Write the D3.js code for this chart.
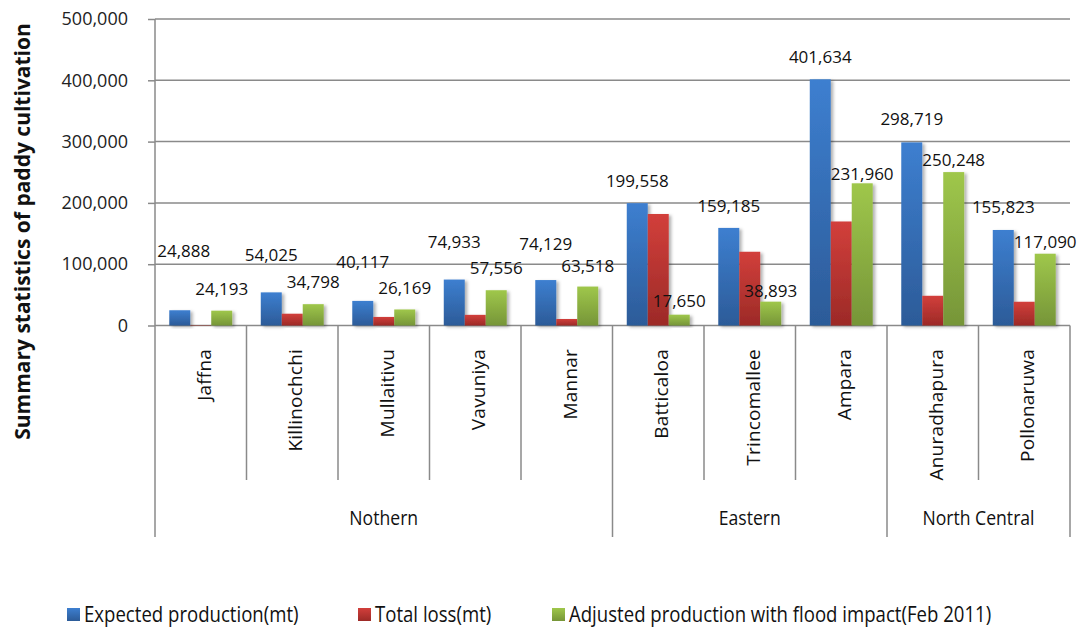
<!DOCTYPE html>
<html>
<head>
<meta charset="utf-8">
<script src="https://cdn.jsdelivr.net/npm/d3@7"></script>
<style>
  html, body { margin: 0; padding: 0; background: #fff; }
  svg { display: block; }
</style>
</head>
<body>
<svg id="chart" width="1085" height="627"></svg>
<script>
// ---------- data ----------
const regions = ["Nothern", "Eastern", "North Central"];
const districts = ["Jaffna", "Killinochchi", "Mullaitivu", "Vavuniya", "Mannar",
                   "Batticaloa", "Trincomallee", "Ampara", "Anuradhapura", "Pollonaruwa"];
const districtRegion = ["Nothern", "Nothern", "Nothern", "Nothern", "Nothern",
                        "Eastern", "Eastern", "Eastern", "North Central", "North Central"];
const seriesNames = ["Expected production(mt)", "Total loss(mt)",
                     "Adjusted production with flood impact(Feb 2011)"];
const expected = [24888, 54025, 40117, 74933, 74129, 199558, 159185, 401634, 298719, 155823];
const totalLoss = [695, 19227, 13948, 17377, 10611, 181908, 120292, 169674, 48471, 38733];
const adjusted = [24193, 34798, 26169, 57556, 63518, 17650, 38893, 231960, 250248, 117090];
const yTicks = [0, 100000, 200000, 300000, 400000, 500000];
const yTitle = "Summary statistics of paddy cultivation";

// ---------- layout / style (not data) ----------
const plot = { left: 155, right: 1070, top: 19, bottom: 325.5 };
const catLineBottom = 480, groupLineBottom = 537;
const colors = [
  { top: "#3d7fd0", bottom: "#2c5b98" },
  { top: "#d23f3b", bottom: "#9c2a27" },
  { top: "#9fc74b", bottom: "#769538" }
];
const gridColor = "#8a8a8a";
// distance (px) from bar top to label baseline, manually placed labels in the original
const liftBlue  = [53, 31, 33, 32, 30, 16, 16, 16, 17, 17];
const liftGreen = [16, 16, 15, 16, 15, 8, 5, 3, 6, 6];
const nudgeBlueX = [4, 0, 0, 0, 0, 0, 0, 0, 0, 0];
const legendX = [67, 358, 552];

const svg = d3.select("#chart");
const defs = svg.append("defs");
colors.forEach((c, i) => {
  const g = defs.append("linearGradient").attr("id", "grad" + i)
    .attr("x1", 0).attr("y1", 0).attr("x2", 0).attr("y2", 1);
  g.append("stop").attr("offset", "0%").attr("stop-color", c.top);
  g.append("stop").attr("offset", "100%").attr("stop-color", c.bottom);
});
const f = defs.append("filter").attr("id", "shadow")
  .attr("x", "-30%").attr("y", "-10%").attr("width", "170%").attr("height", "130%");
f.append("feDropShadow").attr("dx", 2.5).attr("dy", 1.5).attr("stdDeviation", 1.8)
  .attr("flood-color", "#000").attr("flood-opacity", 0.3);

// scales
const y = d3.scaleLinear().domain([0, 500000]).range([plot.bottom, plot.top]);
const x0 = d3.scaleBand().domain(districts).range([plot.left, plot.right]).padding(0);
const bw = x0.bandwidth();
const x1 = d3.scaleBand().domain([0, 1, 2]).range([bw * 0.156, bw * 0.844]).padding(0);

// gridlines
svg.append("g").selectAll("line").data(yTicks).join("line")
  .attr("x1", plot.left).attr("x2", plot.right)
  .attr("y1", d => y(d)).attr("y2", d => y(d))
  .attr("stroke", gridColor).attr("stroke-width", 1.5);

// y axis
const yAxis = d3.axisLeft(y).tickValues(yTicks).tickFormat(d3.format(",")).tickSize(7).tickPadding(20);
const ya = svg.append("g").attr("transform", `translate(${plot.left},0)`).call(yAxis);
ya.select(".domain").remove();
ya.selectAll(".tick line").attr("stroke", gridColor).attr("stroke-width", 1.5);
ya.selectAll(".tick text").attr("font-family", "'Open Sans', sans-serif")
  .attr("font-size", 18).attr("fill", "#222");

// vertical axis line
svg.append("line").attr("x1", plot.left).attr("x2", plot.left)
  .attr("y1", plot.top).attr("y2", groupLineBottom)
  .attr("stroke", gridColor).attr("stroke-width", 1.5);

// category divider lines
const groupStarts = new Set();
districts.forEach((d, i) => {
  if (i === 0 || districtRegion[i] !== districtRegion[i - 1]) groupStarts.add(d);
});
svg.append("g").selectAll("line").data(districts.slice(1)).join("line")
  .attr("x1", d => x0(d)).attr("x2", d => x0(d))
  .attr("y1", plot.bottom).attr("y2", d => groupStarts.has(d) ? groupLineBottom : catLineBottom)
  .attr("stroke", gridColor).attr("stroke-width", 1.5);
svg.append("line").attr("x1", plot.right).attr("x2", plot.right)
  .attr("y1", plot.bottom).attr("y2", groupLineBottom)
  .attr("stroke", gridColor).attr("stroke-width", 1.5);

// bars
const series = [expected, totalLoss, adjusted];
const barData = [];
districts.forEach((d, i) => series.forEach((s, k) => barData.push({ d, i, k, v: s[i] })));
svg.append("g").selectAll("rect").data(barData).join("rect")
  .attr("x", b => x0(b.d) + x1(b.k))
  .attr("width", x1.bandwidth())
  .attr("y", b => y(b.v))
  .attr("height", b => y(0) - y(b.v))
  .attr("fill", b => `url(#grad${b.k})`)
  .attr("filter", "url(#shadow)");

// data labels (blue and green)
const lab = svg.append("g").attr("font-family", "'Open Sans', sans-serif")
  .attr("font-size", 17).attr("fill", "#111").attr("text-anchor", "middle");
districts.forEach((d, i) => {
  lab.append("text")
    .attr("x", x0(d) + x1(0) + x1.bandwidth() / 2 + nudgeBlueX[i])
    .attr("y", y(expected[i]) - liftBlue[i])
    .text(d3.format(",")(expected[i]));
  lab.append("text")
    .attr("x", x0(d) + x1(2) + x1.bandwidth() / 2)
    .attr("y", y(adjusted[i]) - liftGreen[i])
    .text(d3.format(",")(adjusted[i]));
});

// rotated district labels
svg.append("g").selectAll("text").data(districts).join("text")
  .attr("transform", d => `translate(${x0(d) + bw / 2 + 10},349) rotate(-90)`)
  .attr("text-anchor", "end")
  .attr("font-family", "'Open Sans', sans-serif")
  .attr("font-size", 19).attr("letter-spacing", 0.2).attr("fill", "#111")
  .text(d => d);

// region labels
const condense = 0.88;
regions.forEach(r => {
  const idx = districts.map((d, i) => i).filter(i => districtRegion[i] === r);
  const x0s = x0(districts[idx[0]]);
  const x1s = x0(districts[idx[idx.length - 1]]) + bw;
  const t = svg.append("text")
    .attr("x", (x0s + x1s) / 2).attr("y", 525)
    .attr("text-anchor", "middle")
    .attr("font-family", "'Open Sans', sans-serif")
    .attr("font-size", 20).attr("fill", "#111")
    .text(r);
  const L = t.node().getComputedTextLength();
  t.attr("textLength", L * condense).attr("lengthAdjust", "spacingAndGlyphs");
});

// y title
svg.append("text")
  .attr("transform", `translate(30,${(13 + 450) / 2}) rotate(-90)`)
  .attr("text-anchor", "middle")
  .attr("font-family", "'Open Sans', sans-serif")
  .attr("font-weight", "bold").attr("font-size", 21).attr("fill", "#111")
  .text(yTitle)
  .each(function () {
    const L = this.getComputedTextLength();
    d3.select(this).attr("textLength", Math.min(L, 437)).attr("lengthAdjust", "spacingAndGlyphs");
  });

// legend
const lg = svg.append("g");
seriesNames.forEach((name, k) => {
  lg.append("rect").attr("x", legendX[k]).attr("y", 608).attr("width", 13).attr("height", 13)
    .attr("fill", `url(#grad${k})`);
  const t = lg.append("text").attr("x", legendX[k] + 17).attr("y", 622)
    .attr("font-family", "'Open Sans', sans-serif")
    .attr("font-size", 21).attr("fill", "#111").text(name);
  const L = t.node().getComputedTextLength();
  t.attr("textLength", L * 0.885).attr("lengthAdjust", "spacingAndGlyphs");
});
</script>
</body>
</html>
